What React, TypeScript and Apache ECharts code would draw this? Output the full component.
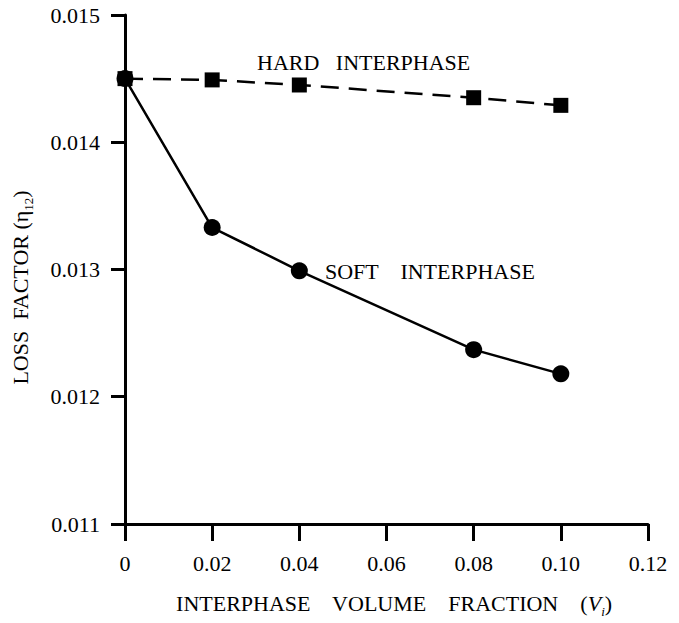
import React, { useEffect, useRef } from 'react';
import * as echarts from 'echarts';

const volumeFractions = [0, 0.02, 0.04, 0.08, 0.10];
const hardLoss = [0.0145, 0.01449, 0.01445, 0.01435, 0.01429];
const softLoss = [0.0145, 0.01333, 0.01299, 0.01237, 0.01218];
const hardLabel = 'HARD   INTERPHASE';
const softLabel = 'SOFT    INTERPHASE';

const FONT = "'Liberation Serif', 'Times New Roman', serif";

export default function App() {
  const ref = useRef<HTMLDivElement>(null);
  useEffect(() => {
    if (!ref.current) return;
    const chart = echarts.init(ref.current, undefined, { renderer: 'svg' });
    const hardData = volumeFractions.map((x, i) => [x, hardLoss[i]]);
    const softData = volumeFractions.map((x, i) => [x, softLoss[i]]);
    chart.setOption({
      animation: false,
      backgroundColor: '#ffffff',
      grid: { left: 125, right: 31, top: 15, bottom: 92, containLabel: false },
      xAxis: {
        type: 'value',
        min: 0,
        max: 0.12,
        interval: 0.02,
        name: '{n|INTERPHASE    VOLUME    FRACTION    (}{it|V}{sub|i}{n|)}',
        nameLocation: 'middle',
        nameGap: 64,
        nameTextStyle: {
          padding: [0, 0, 0, 15],
          rich: {
            n: { fontFamily: FONT, fontSize: 22, color: '#000', lineHeight: 30 },
            it: { fontFamily: FONT, fontSize: 22, fontStyle: 'italic', color: '#000', lineHeight: 30 },
            sub: { fontFamily: FONT, fontSize: 13, fontStyle: 'italic', color: '#000', lineHeight: 13, verticalAlign: 'bottom' },
          },
        },
        axisLine: { show: true, onZero: false, lineStyle: { color: '#000', width: 3 } },
        axisTick: { show: true, inside: false, length: 17, lineStyle: { color: '#000', width: 3 } },
        axisLabel: {
          margin: 28,
          fontFamily: FONT,
          fontSize: 22,
          color: '#000',
          formatter: (v: number) => (v === 0 ? '0' : v.toFixed(2)),
        },
        splitLine: { show: false },
      },
      yAxis: {
        type: 'value',
        min: 0.011,
        max: 0.015,
        interval: 0.001,
        name: '{n|LOSS  FACTOR (}{eta|η}{sub|12}{n|)}',
        nameLocation: 'middle',
        nameGap: 90,
        nameTextStyle: {
          padding: [0, 36, 0, 0],
          rich: {
            n: { fontFamily: FONT, fontSize: 22, color: '#000', lineHeight: 30 },
            eta: { fontFamily: FONT, fontSize: 22, color: '#000', lineHeight: 30 },
            sub: { fontFamily: FONT, fontSize: 13, color: '#000', lineHeight: 13, verticalAlign: 'bottom' },
          },
        },
        axisLine: { show: true, onZero: false, lineStyle: { color: '#000', width: 3 } },
        axisTick: { show: true, inside: false, length: 14, lineStyle: { color: '#000', width: 3 } },
        axisLabel: {
          margin: 25,
          fontFamily: FONT,
          fontSize: 22,
          color: '#000',
          formatter: (v: number) => v.toFixed(3),
        },
        splitLine: { show: false },
      },
      graphic: [
        {
          type: 'text',
          left: 257,
          top: 51,
          style: { text: hardLabel, fontFamily: FONT, fontSize: 22, fill: '#000' },
        },
        {
          type: 'text',
          left: 325,
          top: 260,
          style: { text: softLabel, fontFamily: FONT, fontSize: 22, fill: '#000' },
        },
      ],
      series: [
        {
          name: 'Hard interphase',
          type: 'line',
          data: hardData,
          symbol: 'rect',
          symbolSize: 15,
          lineStyle: { color: '#000', width: 2.5, type: [18, 10] },
          itemStyle: { color: '#000' },
          z: 3,
        },
        {
          name: 'Soft interphase',
          type: 'line',
          data: softData,
          symbol: 'circle',
          symbolSize: 17,
          lineStyle: { color: '#000', width: 2.5 },
          itemStyle: { color: '#000' },
          z: 3,
        },
      ],
    });
    return () => chart.dispose();
  }, []);
  return (
    <div
      ref={ref}
      style={{ position: 'fixed', left: 0, top: 0, width: 679, height: 623, background: '#fff' }}
    />
  );
}
